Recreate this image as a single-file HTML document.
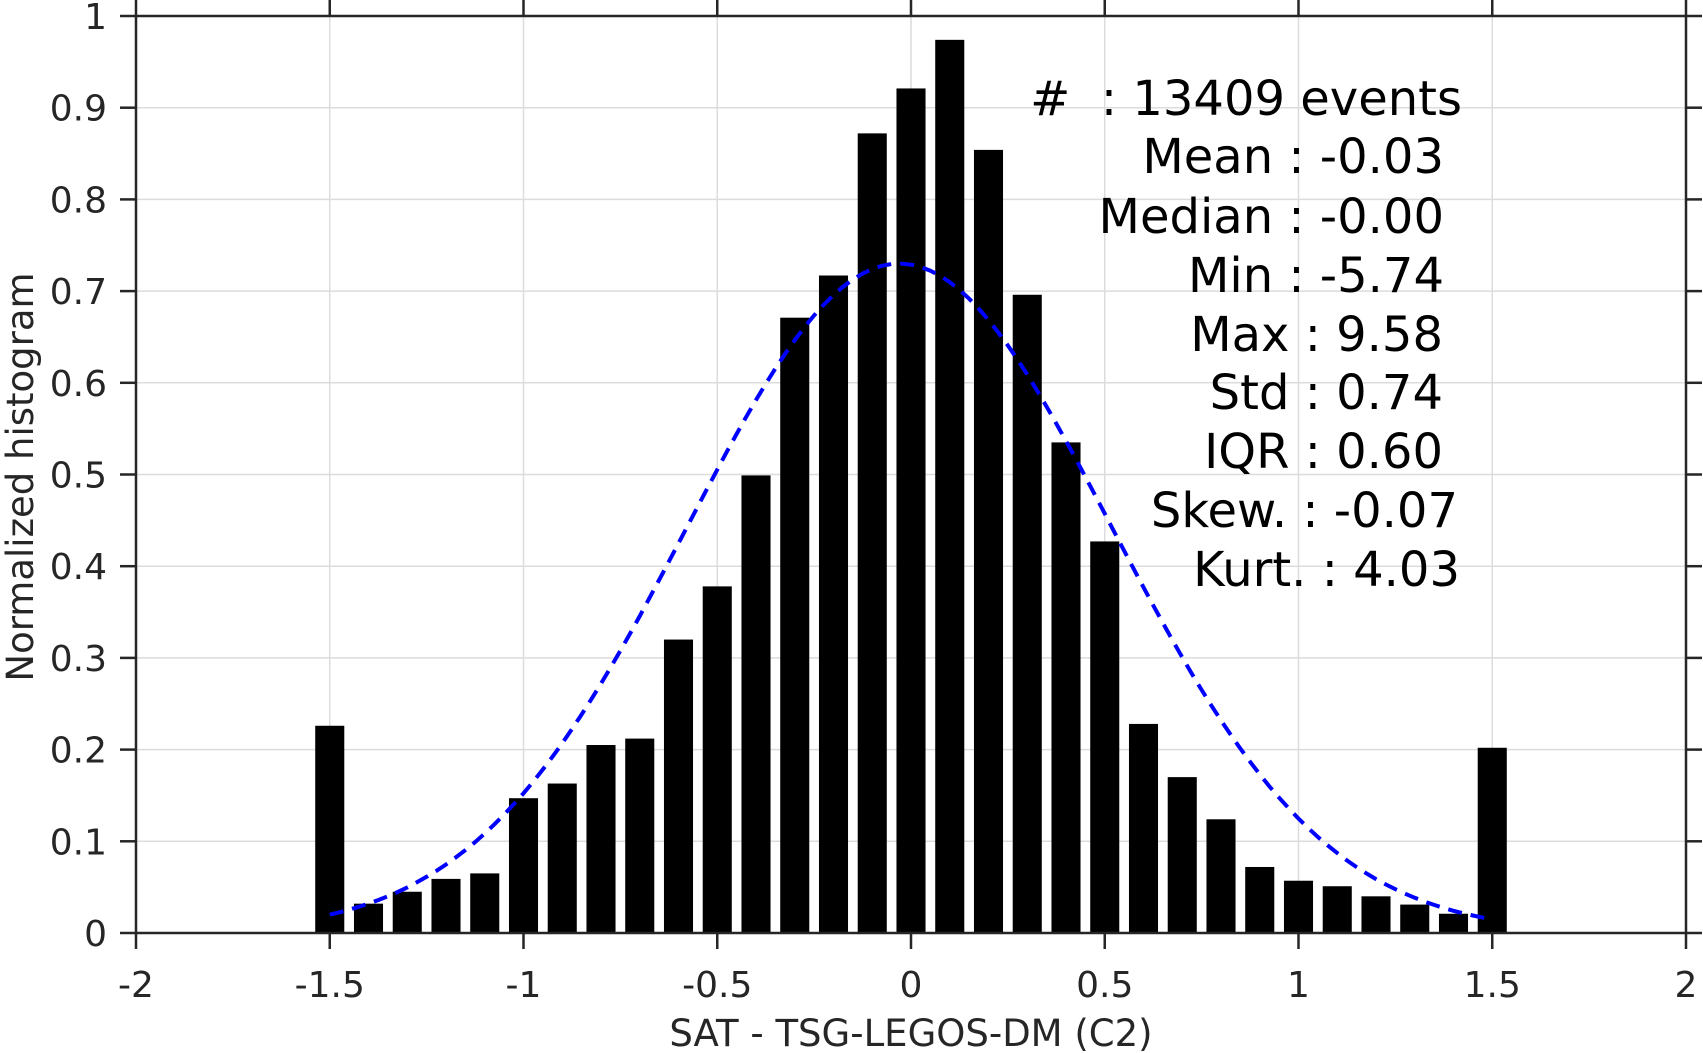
<!DOCTYPE html>
<html><head><meta charset="utf-8">
<style>
html,body{margin:0;padding:0;background:#fff;}
svg{display:block;font-family:"DejaVu Sans","Liberation Sans",sans-serif;}
</style></head>
<body>
<svg id="chart" width="1703" height="1053" viewBox="0 0 1703 1053" xmlns="http://www.w3.org/2000/svg">
<g id="grid"></g>
<g id="bars"></g>
<path id="fit" fill="none" stroke="#0000ff" stroke-width="4" stroke-dasharray="14,9"></path>
<g id="axes"></g>
<g id="stats" font-size="48" fill="#000" text-anchor="end"></g>
<text x="911" y="1046" font-size="37" fill="#262626" text-anchor="middle">SAT - TSG-LEGOS-DM (C2)</text>
<text transform="translate(33,477) rotate(-90)" font-size="37" fill="#262626" text-anchor="middle">Normalized histogram</text>
</svg>
<script>
const binCenters = [-1.5,-1.4,-1.3,-1.2,-1.1,-1.0,-0.9,-0.8,-0.7,-0.6,-0.5,-0.4,-0.3,-0.2,-0.1,0,0.1,0.2,0.3,0.4,0.5,0.6,0.7,0.8,0.9,1.0,1.1,1.2,1.3,1.4,1.5];
const binValues = [0.226,0.032,0.045,0.059,0.065,0.147,0.163,0.205,0.212,0.320,0.378,0.499,0.671,0.717,0.872,0.921,0.974,0.854,0.696,0.535,0.427,0.228,0.170,0.124,0.072,0.057,0.051,0.040,0.031,0.021,0.202];
const xTicks = [-2,-1.5,-1,-0.5,0,0.5,1,1.5,2];
const xTickLabels = ["-2","-1.5","-1","-0.5","0","0.5","1","1.5","2"];
const yTicks = [0,0.1,0.2,0.3,0.4,0.5,0.6,0.7,0.8,0.9,1];
const yTickLabels = ["0","0.1","0.2","0.3","0.4","0.5","0.6","0.7","0.8","0.9","1"];
const fitMean = -0.03;
const fitSigma = 0.548;
const fitPeak = 0.73;
const fitRange = [-1.5, 1.5];
const statLabels = ["#  : 13409 events","Mean : -0.03","Median : -0.00","Min : -5.74","Max : 9.58","Std : 0.74","IQR : 0.60","Skew. : -0.07","Kurt. : 4.03"];

const NS="http://www.w3.org/2000/svg";
const L=136,R=1686,T=16,B=933;
const xmin=-2,xmax=2,ymin=0,ymax=1;
const sx=v=>L+(v-xmin)/(xmax-xmin)*(R-L);
const sy=v=>B-(v-ymin)/(ymax-ymin)*(B-T);
function mk(tag,attrs,parent){const e=document.createElementNS(NS,tag);for(const k in attrs)e.setAttribute(k,attrs[k]);parent.appendChild(e);return e;}

const grid=document.getElementById('grid');
xTicks.forEach(v=>{const l=mk('line',{x1:sx(v),x2:sx(v),y1:T,y2:B,stroke:'#dcdcdc','stroke-width':1.5},grid);

});
yTicks.forEach(v=>{const l=mk('line',{x1:L,x2:R,y1:sy(v),y2:sy(v),stroke:'#dcdcdc','stroke-width':1.5},grid);

});

const bars=document.getElementById('bars');
const bw=(sx(0.075)-sx(0));
binCenters.forEach((c,i)=>{const y=sy(binValues[i]);
const r=mk('rect',{x:sx(c)-bw/2,y:y,width:bw,height:B-y,fill:'#000'},bars);

});

let d='';const n=120;
for(let i=0;i<=n;i++){const x=fitRange[0]+(fitRange[1]-fitRange[0])*i/n;
const y=fitPeak*Math.exp(-Math.pow(x-fitMean,2)/(2*fitSigma*fitSigma));
d+=(i?'L':'M')+sx(x).toFixed(1)+','+sy(y).toFixed(1);}
document.getElementById('fit').setAttribute('d',d);

const ax=document.getElementById('axes');
mk('rect',{x:L,y:T,width:R-L,height:B-T,fill:'none',stroke:'#262626','stroke-width':2.5},ax);
xTicks.forEach((v,i)=>{
mk('line',{x1:sx(v),x2:sx(v),y1:B,y2:B+16,stroke:'#262626','stroke-width':2.5},ax);
mk('line',{x1:sx(v),x2:sx(v),y1:T,y2:T-16,stroke:'#262626','stroke-width':2.5},ax);
const t=mk('text',{x:sx(v),y:997,'font-size':36,fill:'#262626','text-anchor':'middle'},ax);
t.textContent=xTickLabels[i];

});
yTicks.forEach((v,i)=>{
mk('line',{x1:L,x2:L-16,y1:sy(v),y2:sy(v),stroke:'#262626','stroke-width':2.5},ax);
mk('line',{x1:R,x2:R+16,y1:sy(v),y2:sy(v),stroke:'#262626','stroke-width':2.5},ax);
const t=mk('text',{x:107,y:sy(v)+13,'font-size':36,fill:'#262626','text-anchor':'end'},ax);
t.textContent=yTickLabels[i];

});

const st=document.getElementById('stats');
const baselines=[115,173,233,292,351,409,468,527,586];
const rights=[1462,1444,1444,1444,1443,1443,1443,1458,1460];
statLabels.forEach((s,i)=>{const t=mk('text',{x:rights[i],y:baselines[i]},st);
t.setAttribute('xml:space','preserve');t.style.whiteSpace='pre';
t.textContent=s;

});
</script>
</body></html>
